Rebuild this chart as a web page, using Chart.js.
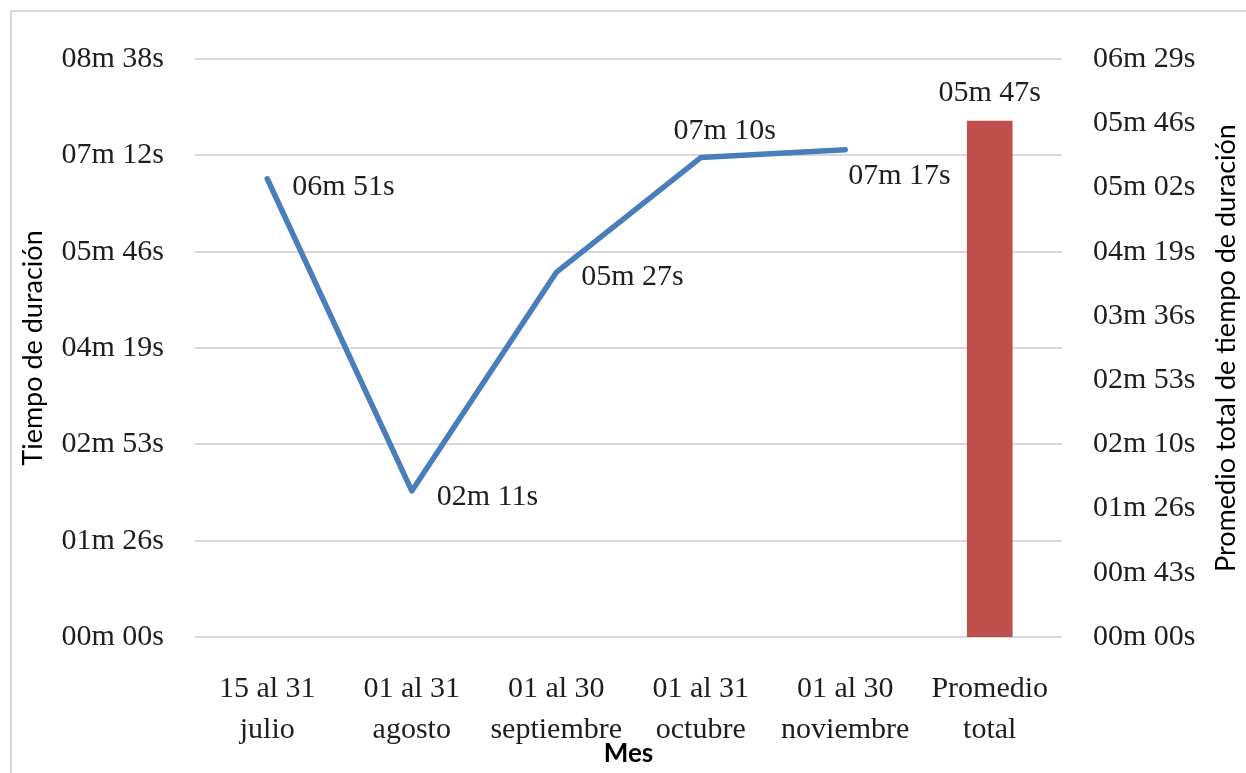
<!DOCTYPE html>
<html>
<head>
<meta charset="utf-8">
<script src="https://cdn.jsdelivr.net/npm/chart.js@4.4.1/dist/chart.umd.min.js"></script>
<style>
  html, body { margin: 0; padding: 0; background: #fff; }
  #wrap { position: relative; width: 1246px; height: 773px; overflow: hidden; }
  #frame { position: absolute; left: 10px; top: 10px; width: 1300px; height: 800px;
           border-top: 2px solid #d9d9d9; border-left: 2px solid #d9d9d9; box-sizing: border-box; }
  #c { position: absolute; left: 0; top: 0; }
</style>
</head>
<body>
<div id="wrap">
  <div id="frame"></div>
  <canvas id="c" width="1246" height="773"></canvas>
</div>
<script>
// Periods shown on the horizontal axis (two lines each)
const categories = [
  ['15 al 31', 'julio'],
  ['01 al 31', 'agosto'],
  ['01 al 30', 'septiembre'],
  ['01 al 31', 'octubre'],
  ['01 al 30', 'noviembre'],
  ['Promedio', 'total']
];

// Average duration per period, in seconds
const monthlyDuration = [411, 131, 327, 430, 437, null];
// Overall average duration, in seconds (right axis)
const overallAverage = [null, null, null, null, null, 347];

// Axis tick labels (left: steps of 0.001 day, right: steps of 0.0005 day)
const leftTickLabels = ['00m 00s', '01m 26s', '02m 53s', '04m 19s', '05m 46s', '07m 12s', '08m 38s'];
const rightTickLabels = ['00m 00s', '00m 43s', '01m 26s', '02m 10s', '02m 53s', '03m 36s',
                         '04m 19s', '05m 02s', '05m 46s', '06m 29s'];
const leftStep = 86.4;
const rightStep = 43.2;

function formatDuration(sec) {
  const s = Math.round(sec);
  const m = Math.floor(s / 60);
  const r = s % 60;
  return String(m).padStart(2, '0') + 'm ' + String(r).padStart(2, '0') + 's';
}

const SERIF = '"Liberation Serif", "Times New Roman", serif';
const SANS = 'Lato, "Open Sans", sans-serif';
const TEXT = '#1e1e1e';
const SERIF_SIZE = 30;

// Value labels placed next to each mark
const valueLabels = {
  id: 'valueLabels',
  afterDatasetsDraw(chart, args, opts) {
    const ctx = chart.ctx;
    ctx.save();
    ctx.font = SERIF_SIZE + 'px ' + SERIF;
    ctx.fillStyle = TEXT;
    ctx.textBaseline = 'middle';
    chart.data.datasets.forEach((ds, di) => {
      const meta = chart.getDatasetMeta(di);
      const place = opts.placement[di];
      meta.data.forEach((el, i) => {
        const v = ds.data[i];
        if (v === null || v === undefined) return;
        const p = place[i];
        ctx.textAlign = p.align;
        ctx.fillText(formatDuration(v), el.x + p.dx, el.y + p.dy);
      });
    });
    ctx.restore();
  }
};

// Right axis title, reading bottom to top
const rightTitle = {
  id: 'rightTitle',
  afterDraw(chart, args, opts) {
    const ctx = chart.ctx;
    const area = chart.chartArea;
    ctx.save();
    ctx.translate(opts.x, (area.top + area.bottom) / 2);
    ctx.rotate(-Math.PI / 2);
    ctx.font = '27px ' + SANS;
    ctx.fillStyle = '#000';
    ctx.textAlign = 'center';
    ctx.textBaseline = 'middle';
    ctx.fillText(opts.text, 0, 0);
    ctx.restore();
  }
};

new Chart(document.getElementById('c'), {
  data: {
    labels: categories,
    datasets: [
      {
        type: 'line',
        label: 'Tiempo de duración',
        data: monthlyDuration,
        yAxisID: 'y',
        borderColor: '#4a7ebb',
        borderWidth: 5.5,
        borderCapStyle: 'round',
        borderJoinStyle: 'round',
        pointRadius: 0,
        tension: 0,
        order: 1
      },
      {
        type: 'bar',
        label: 'Promedio total de tiempo de duración',
        data: overallAverage,
        yAxisID: 'y2',
        backgroundColor: '#c0504d',
        barThickness: 45,
        order: 2
      }
    ]
  },
  options: {
    responsive: false,
    animation: false,
    layout: { padding: { top: 59, left: 0, right: 0, bottom: 0 } },
    plugins: {
      legend: { display: false },
      tooltip: { enabled: false },
      valueLabels: {
        placement: [
          [
            { dx: 25, dy: 8, align: 'left' },
            { dx: 25, dy: 6, align: 'left' },
            { dx: 25, dy: 5, align: 'left' },
            { dx: 24, dy: -26, align: 'center' },
            { dx: 3, dy: 26, align: 'left' },
            null
          ],
          [null, null, null, null, null, { dx: 0, dy: -28, align: 'center' }]
        ]
      },
      rightTitle: { x: 1226, text: 'Promedio total de tiempo de duración' }
    },
    scales: {
      x: {
        type: 'category',
        offset: true,
        grid: { display: false, drawTicks: false },
        border: { display: false },
        ticks: { padding: 32, color: TEXT, font: { family: SERIF, size: SERIF_SIZE, lineHeight: 1.35 }, maxRotation: 0 },
        title: { display: true, text: 'Mes', color: '#000', font: { family: SANS, size: 26, weight: 'bold', lineHeight: 1.2 }, padding: { top: 0, bottom: 4 } },
        afterFit(s) { s.height = 136; }
      },
      y: {
        type: 'linear',
        position: 'left',
        min: 0,
        max: leftStep * (leftTickLabels.length - 1),
        grid: { color: '#d9d9d9', lineWidth: 2, drawTicks: false },
        border: { display: false },
        afterBuildTicks(s) { s.ticks = leftTickLabels.map((_, i) => ({ value: i * leftStep })); },
        ticks: { padding: 31, color: TEXT, font: { family: SERIF, size: SERIF_SIZE }, callback: (v, i) => leftTickLabels[i] },
        title: { display: true, text: 'Tiempo de duración', color: '#000', font: { family: SANS, size: 27, lineHeight: 1.2 }, padding: { top: 17, bottom: 0 } },
        afterFit(s) { s.width = 195; }
      },
      y2: {
        type: 'linear',
        position: 'right',
        min: 0,
        max: rightStep * (rightTickLabels.length - 1),
        grid: { display: false, drawTicks: false },
        border: { display: false },
        afterBuildTicks(s) { s.ticks = rightTickLabels.map((_, i) => ({ value: i * rightStep })); },
        ticks: { padding: 31, color: TEXT, font: { family: SERIF, size: SERIF_SIZE }, callback: (v, i) => rightTickLabels[i] },
        afterFit(s) { s.width = 184; }
      }
    }
  },
  plugins: [valueLabels, rightTitle]
});
</script>
</body>
</html>
